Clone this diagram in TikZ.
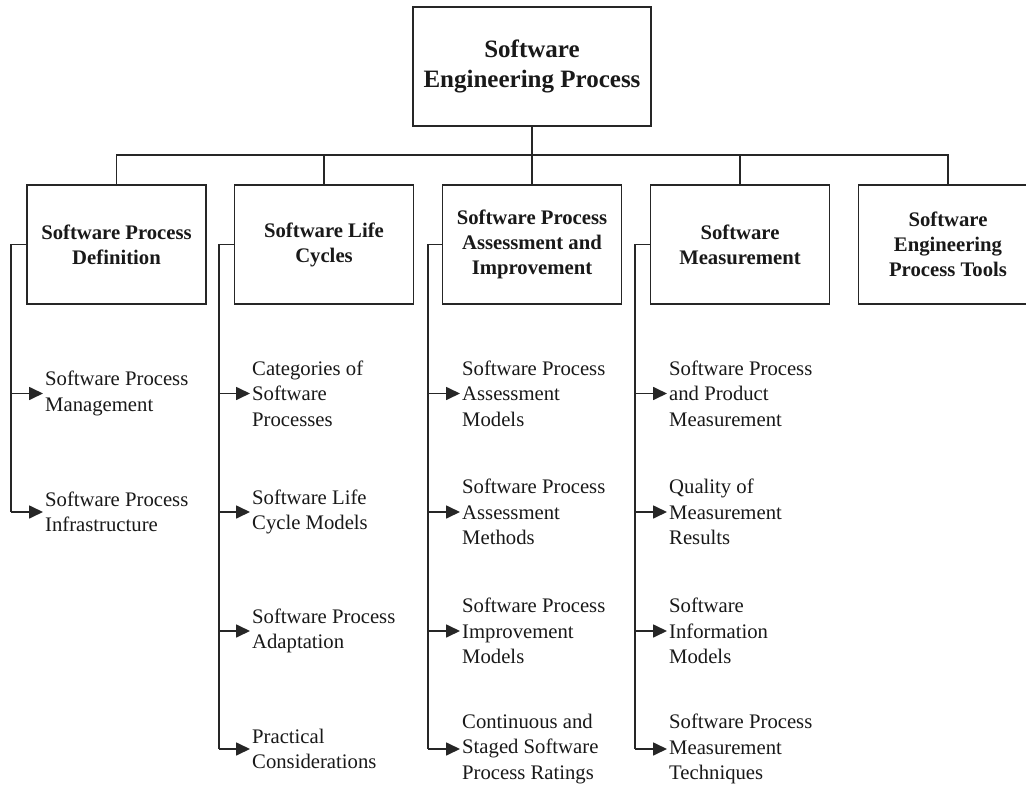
\documentclass[tikz,border=0pt]{standalone}
\usepackage{fontspec}
\setmainfont{Liberation Serif}
\usetikzlibrary{arrows.meta}
\begin{document}
\begin{tikzpicture}[x=1pt,y=-1pt,
  ln/.style={draw=black!85, line width=1.7pt},
  topbox/.style={ln, minimum width=238pt, minimum height=119pt, align=center, font=\fontsize{25}{30}\selectfont\bfseries, inner sep=0pt, text=black!90},
  catbox/.style={ln, minimum width=179pt, minimum height=119pt, align=center, font=\fontsize{20.7}{25}\selectfont\bfseries, inner sep=0pt, text=black!90},
  item/.style={anchor=west, align=left, inner sep=0pt, font=\fontsize{20.7}{25.5}\selectfont, text=black!90},
  arr/.style={ln, -{Triangle[length=14pt,width=13pt]}, shorten >=2pt},
]
\useasboundingbox (0,0) rectangle (1026,789);
\fill[white] (0,0) rectangle (1026,789);

\node[topbox] (top) at (532,66.5) {Software\\Engineering Process};
\node[catbox] (c1) at (116.5,244.5) {Software Process\\Definition};
\node[catbox] (c2) at (324,244.5) {Software Life\\Cycles};
\node[catbox] (c3) at (532,244.5) {Software Process\\Assessment and\\Improvement};
\node[catbox] (c4) at (740,244.5) {Software\\Measurement};
\node[catbox] (c5) at (948,244.5) {Software\\Engineering\\Process Tools};

\coordinate (bus) at (0,155);
\draw[ln] (top.south) -- (top.south |- bus);
\draw[ln] (c1.north) |- (c5.north |- bus) -- (c5.north);
\draw[ln] (c2.north) -- (c2.north |- bus);
\draw[ln] (c3.north) -- (c3.north |- bus);
\draw[ln] (c4.north) -- (c4.north |- bus);

% items
\node[item] (i11) at (45,393.5) {Software Process\\Management};
\node[item] (i12) at (45,512) {Software Process\\Infrastructure};

\node[item] (i21) at (252,393.5) {Categories of\\Software\\Processes};
\node[item] (i22) at (252,512) {Software Life\\Cycle Models};
\node[item] (i23) at (252,631) {Software Process\\Adaptation};
\node[item] (i24) at (252,749) {Practical\\Considerations};

\node[item] (i31) at (462,393.5) {Software Process\\Assessment\\Models};
\node[item] (i32) at (462,512) {Software Process\\Assessment\\Methods};
\node[item] (i33) at (462,631) {Software Process\\Improvement\\Models};
\node[item] (i34) at (462,749) {Continuous and\\Staged Software\\Process Ratings};

\node[item] (i41) at (669,393.5) {Software Process\\and Product\\Measurement};
\node[item] (i42) at (669,512) {Quality of\\Measurement\\Results};
\node[item] (i43) at (669,631) {Software\\Information\\Models};
\node[item] (i44) at (669,749) {Software Process\\Measurement\\Techniques};

% trunks
\path (c1.west) ++(-15,0) coordinate (t1);
\path (c2.west) ++(-15,0) coordinate (t2);
\path (c3.west) ++(-14,0) coordinate (t3);
\path (c4.west) ++(-15,0) coordinate (t4);

\draw[ln] (c1.west) -- (t1) -- (t1 |- i12.west);
\draw[ln] (c2.west) -- (t2) -- (t2 |- i24.west);
\draw[ln] (c3.west) -- (t3) -- (t3 |- i34.west);
\draw[ln] (c4.west) -- (t4) -- (t4 |- i44.west);

\foreach \i in {11,12} \draw[arr] (t1 |- i\i.west) -- (i\i.west);
\foreach \i in {21,22,23,24} \draw[arr] (t2 |- i\i.west) -- (i\i.west);
\foreach \i in {31,32,33,34} \draw[arr] (t3 |- i\i.west) -- (i\i.west);
\foreach \i in {41,42,43,44} \draw[arr] (t4 |- i\i.west) -- (i\i.west);
\end{tikzpicture}
\end{document}
